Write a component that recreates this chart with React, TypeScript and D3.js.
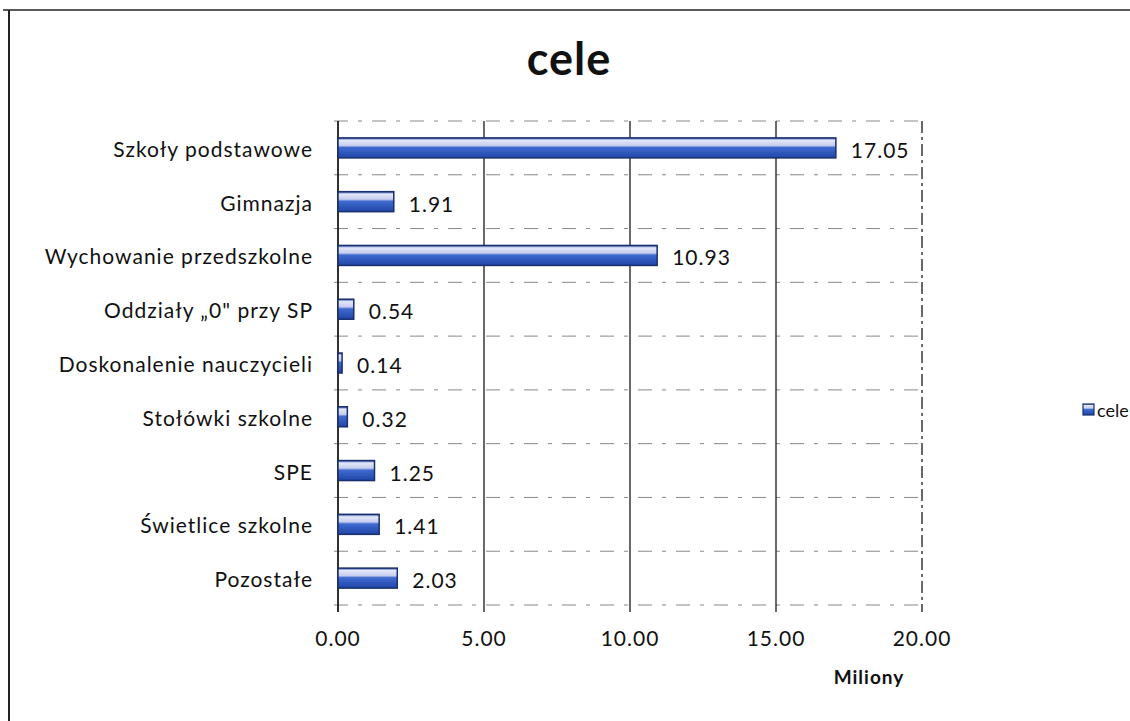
import React from "react";
import * as d3 from "d3";

const categories = [
  "Szkoły podstawowe",
  "Gimnazja",
  "Wychowanie przedszkolne",
  "Oddziały „0\" przy SP",
  "Doskonalenie nauczycieli",
  "Stołówki szkolne",
  "SPE",
  "Świetlice szkolne",
  "Pozostałe",
];
const values = [17.05, 1.91, 10.93, 0.54, 0.14, 0.32, 1.25, 1.41, 2.03];
const xTicks = [0, 5, 10, 15, 20];
const seriesName = "cele";
const title = "cele";
const axisTitle = "Miliony";

export default function App() {
  const W = 1130, H = 721;
  const left = 338, right = 922, top = 121, bottom = 605;
  const x = d3.scaleLinear().domain([0, 20]).range([left, right]);
  const y = d3.scaleBand().domain(categories).range([top, bottom]).paddingInner(0.63).paddingOuter(0.315);
  const font = "Lato, 'Open Sans', sans-serif";
  const bh = 20;
  return (
    <svg width={W} height={H} style={{ position: "absolute", left: 0, top: 0, background: "#fff" }}>
      <defs>
        <linearGradient id="barg" x1="0" y1="0" x2="0" y2="1">
          <stop offset="0" stopColor="#2a4fb0" />
          <stop offset="0.12" stopColor="#e4e7f7" />
          <stop offset="0.38" stopColor="#c6cdef" />
          <stop offset="0.48" stopColor="#3f6ad0" />
          <stop offset="1" stopColor="#1f45a6" />
        </linearGradient>
      </defs>
      <rect x={0} y={0} width={W} height={H} fill="#fff" />
      {/* chart border */}
      <line x1={3} y1={10} x2={W} y2={10} stroke="#222" strokeWidth={1.5} />
      <line x1={9} y1={10} x2={9} y2={H} stroke="#222" strokeWidth={2} />
      <text x={569} y={75} textAnchor="middle" fontFamily={font} fontWeight="bold" fontSize={45} letterSpacing={1} fill="#111">{title}</text>
      {/* horizontal dashed gridlines */}
      {d3.range(categories.length + 1).map((i) => {
        const yy = top + (i * (bottom - top)) / categories.length;
        return <line key={"h" + i} x1={left - 4} x2={right} y1={yy} y2={yy} stroke="#888" strokeWidth={1} strokeDasharray="14 10 4 10" />;
      })}
      {/* vertical gridlines */}
      {xTicks.map((t, i) => (
        <line key={"v" + t} x1={x(t)} x2={x(t)} y1={top} y2={bottom + 7} stroke="#1a1a1a" strokeWidth={i === 0 ? 1.8 : 1.3} strokeDasharray={i === xTicks.length - 1 ? "12 4 3 4" : undefined} />
      ))}
      {/* category labels */}
      {categories.map((c) => (
        <text key={c} x={313} y={y(c)! + y.bandwidth() / 2 + 9} textAnchor="end" fontFamily={font} fontSize={21} letterSpacing={1} fill="#111">{c}</text>
      ))}
      {/* bars */}
      {categories.map((c, i) => {
        const cy = y(c)! + y.bandwidth() / 2;
        const w = x(values[i]) - x(0);
        return (
          <g key={"b" + c}>
            <rect x={x(0)} y={cy - bh / 2} width={Math.max(w, 2)} height={bh} fill="url(#barg)" stroke="#1a2f6e" strokeWidth={1.5} />
            <text x={x(values[i]) + 15} y={cy + 10} fontFamily={font} fontSize={21} letterSpacing={1} fill="#111">{values[i].toFixed(2)}</text>
          </g>
        );
      })}
      {/* x tick labels */}
      {xTicks.map((t) => (
        <text key={"t" + t} x={x(t)} y={646} textAnchor="middle" fontFamily={font} fontSize={21} letterSpacing={1} fill="#111">{t.toFixed(2)}</text>
      ))}
      <text x={869} y={684} textAnchor="middle" fontFamily={font} fontWeight="bold" fontSize={19} letterSpacing={1} fill="#111">{axisTitle}</text>
      {/* legend */}
      <rect x={1083} y={404} width={11} height={11} fill="url(#barg)" stroke="#1a2f6e" strokeWidth={1.2} />
      <text x={1097} y={417} fontFamily={font} fontSize={18} fill="#111">{seriesName}</text>
    </svg>
  );
}
